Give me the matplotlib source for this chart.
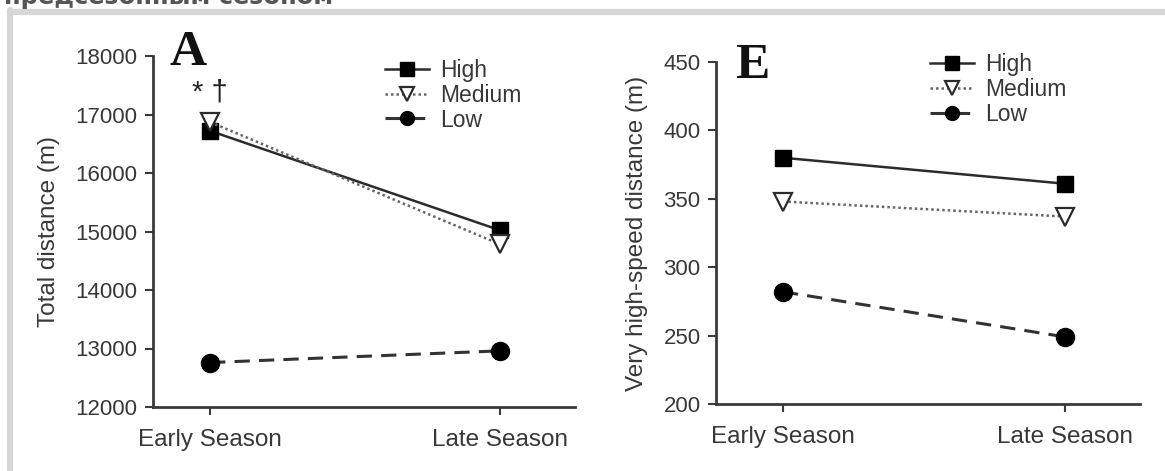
import matplotlib
matplotlib.use("Agg")
import matplotlib.pyplot as plt
from matplotlib.lines import Line2D

plt.rcParams['font.family'] = ['Liberation Sans', 'DejaVu Sans']

# data
seasons = ['Early Season', 'Late Season']
groups = ['High', 'Medium', 'Low']

total_high = [16720, 15020]
total_medium = [16870, 14780]
total_low = [12760, 12960]

vhsd_high = [380, 361]
vhsd_medium = [348, 337]
vhsd_low = [282, 249]

total_ticks = [12000, 13000, 14000, 15000, 16000, 17000, 18000]
vhsd_ticks = [200, 250, 300, 350, 400, 450]

W, H = 1165, 471
fig = plt.figure(figsize=(W / 100, H / 100), dpi=100)

dark = '#2b2b2b'
txt = '#383838'

styles = {
    'High': dict(color=dark, lw=1.8, ls='-', marker='s', ms=11.5, mfc='black', mec='black'),
    'Medium': dict(color='#666666', lw=1.8, ls=(0, (1, 1.2)), marker='v', ms=12.5, mfc='white', mec=dark, mew=1.6),
    'Low': dict(color='#333333', lw=2.2, ls=(0, (5, 3)), marker='o', ms=13, mfc='black', mec='black'),
}


def px_axes(x0, x1, ytop, ybot):
    return fig.add_axes([x0 / W, 1 - ybot / H, (x1 - x0) / W, (ybot - ytop) / H])


def style_axes(ax, ticks, ylabel):
    ax.set_ylim(ticks[0], ticks[-1])
    ax.set_yticks(ticks)
    ax.set_xticks([0, 1])
    ax.set_xticklabels(seasons)
    for s in ['top', 'right']:
        ax.spines[s].set_visible(False)
    for s in ['left', 'bottom']:
        ax.spines[s].set_color('#3a3a3a')
        ax.spines[s].set_linewidth(2)
    ax.tick_params(direction='out', length=6, width=1.5, color='#3a3a3a',
                   labelcolor=txt, labelsize=16, pad=5)
    ax.tick_params(axis='x', pad=10, labelsize=17.5)
    ax.set_ylabel(ylabel, fontsize=17.5, color=txt, labelpad=11)
    ax.patch.set_alpha(0)


def legend(ax, x, y):
    handles = [Line2D([], [], **styles[g]) for g in groups]
    for h in handles:
        h.set_markersize(10)
    leg = ax.legend(handles, groups, loc='upper left', bbox_to_anchor=(x, y),
                    frameon=False, fontsize=16.5, handlelength=1.9, labelspacing=0.08,
                    handletextpad=0.5, borderaxespad=0)
    for t in leg.get_texts():
        t.set_color(txt)


# panel A
axA = px_axes(153, 575, 56, 407)
axA.plot([0, 1], total_high, zorder=3, **styles['High'])
axA.plot([0, 1], total_medium, zorder=4, **styles['Medium'])
axA.plot([0, 1], total_low, zorder=3, **styles['Low'])
axA.set_xlim(-0.197, 1.258)
style_axes(axA, total_ticks, 'Total distance (m)')
axA.text(0.04, 1.075, 'A', transform=axA.transAxes, family='Liberation Serif',
         fontweight='bold', fontsize=37, color='#111111', va='top')
axA.text(0, 17380, '* †', ha='center', va='center', fontsize=21, color='#222222')
legend(axA, 0.528, 1.018)

# panel E
axE = px_axes(716, 1140, 62, 404)
axE.plot([0, 1], vhsd_high, zorder=3, **styles['High'])
axE.plot([0, 1], vhsd_medium, zorder=4, **styles['Medium'])
axE.plot([0, 1], vhsd_low, zorder=3, **styles['Low'])
axE.set_xlim(-0.237, 1.264)
style_axes(axE, vhsd_ticks, 'Very high-speed distance (m)')
axE.text(0.045, 1.055, 'E', transform=axE.transAxes, family='Liberation Serif',
         fontweight='bold', fontsize=37, color='#111111', va='top')
legend(axE, 0.483, 1.053)

# light grey frame round the figure, as in the page screenshot
frame = '#d7d7d7'
fig.add_artist(Line2D([10 / W, 10 / W], [0, 1 - 10 / H], color=frame, lw=4.5,
                      transform=fig.transFigure, solid_capstyle='round'))
fig.add_artist(Line2D([10 / W, 1], [1 - 12 / H, 1 - 12 / H], color=frame, lw=4.5,
                      transform=fig.transFigure, solid_capstyle='round'))

# cut-off caption line from the page above the figure
fig.text(4 / W, 1 - 4 / H, 'предсезонным сезоном', fontsize=17.5, fontweight='bold',
         color='#555555', va='baseline', family='DejaVu Sans')

fig.savefig('out.png', dpi=100)
